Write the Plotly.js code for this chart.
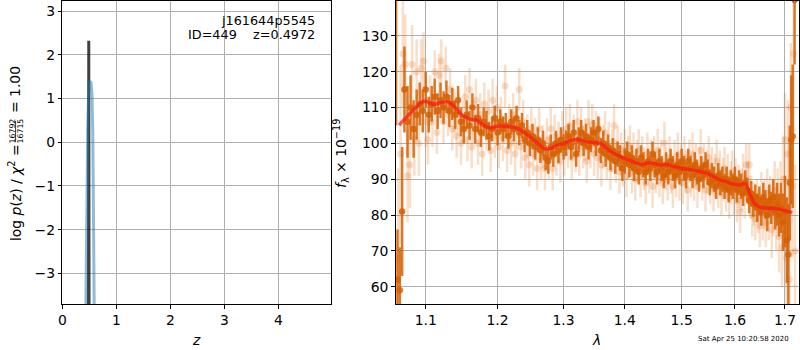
<!DOCTYPE html>
<html>
<head>
<meta charset="utf-8">
<script src="https://cdn.plot.ly/plotly-3.0.1.min.js"></script>
<style>html,body{margin:0;padding:0;background:#fff}#chart{width:800px;height:350px}</style>
</head>
<body>
<div id="chart"></div>
<script>
// ---- Left panel: redshift PDF ----
const zBlack = [0.482, 0.486, 0.490, 0.494, 0.498];
const logpBlack = [-6.0, -1.5, 2.32, -1.5, -6.0];
const zBlue = [0.435, 0.45, 0.47, 0.49, 0.51, 0.53, 0.55, 0.565, 0.575, 0.585, 0.592];
const logpBlue = [-4.0, -1.8, 0.3, 1.2, 1.38, 1.37, 1.1, 0.2, -1.2, -3.0, -4.0];
const zTicks = [0, 1, 2, 3, 4];
const logpTicks = [-3, -2, -1, 0, 1, 2, 3];

// ---- Right panel: spectrum ----
const darkWave = [1.0612,1.063,1.066,1.069,1.072,1.076,1.080,1.084,1.088,1.092,1.096,1.100,1.104,1.108,1.112,1.116,1.120,1.124,1.128,1.132,1.136,1.140,1.144,1.148,1.152,1.156,1.160,1.164,1.168,1.172,1.176,1.180,1.184,1.188,1.192,1.196,1.200,1.204,1.208,1.212,1.216,1.220,1.224,1.228,1.232,1.236,1.240,1.244,1.248,1.252,1.256,1.260,1.264,1.268,1.272,1.276,1.280,1.284,1.288,1.292,1.296,1.300,1.304,1.308,1.312,1.316,1.320,1.324,1.328,1.332,1.336,1.340,1.344,1.348,1.352,1.356,1.360,1.364,1.368,1.372,1.376,1.380,1.384,1.388,1.392,1.396,1.400,1.404,1.408,1.412,1.416,1.420,1.424,1.428,1.432,1.436,1.440,1.444,1.448,1.452,1.456,1.460,1.464,1.468,1.472,1.476,1.480,1.484,1.488,1.492,1.496,1.500,1.504,1.508,1.512,1.516,1.520,1.524,1.528,1.532,1.536,1.540,1.544,1.548,1.552,1.556,1.560,1.564,1.568,1.572,1.576,1.580,1.584,1.588,1.592,1.596,1.600,1.604,1.608,1.612,1.616,1.620,1.624,1.628,1.632,1.636,1.640,1.644,1.648,1.652,1.656,1.660,1.664,1.668,1.672,1.676,1.680,1.684,1.688,1.692,1.696,1.700,1.704,1.707,1.710,1.713,1.716,1.720,1.724];
const darkFlux = [150,62,59,81,115,106,110,104,108,111,109,115,108,111,113,109,112,110,113,109,111,108,112,106,104,108,105,110,104,107,103,106,105,102,104,107,103,106,104,105,102,106,104,107,103,105,101,103,100,102,99,101,98,100,96,95,99,97,100,98,101,99,100,102,99,103,97,101,103,100,102,99,101,103,100,104,98,100,97,99,96,98,95,97,96,93,95,97,94,96,93,95,92,96,94,92,95,93,97,94,92,95,93,91,94,92,95,93,91,94,92,95,93,91,95,93,91,94,92,90,93,91,94,92,89,91,90,88,91,89,90,88,90,87,89,88,90,87,89,88,86,89,87,84,86,83,85,82,84,81,85,83,80,84,82,85,81,83,80,82,78,81,73,69,89,101,102,140,145];
const darkErr = [45,14,12,18,12,10,9,8,7,6,6,5,5,5,5,5,5,4.5,4.5,4.5,4.5,4,4,4,4,4,4,4,4,4,4,4,4,4,3.5,3.5,3.5,3.5,3.5,3.5,3.5,3.5,3.5,3.5,3.5,3.5,3.5,3.5,3.5,3.5,3.5,3.5,3.5,3.5,3.5,3.5,3.5,3.5,3.5,3.5,3.5,3.5,3.5,3.5,3.5,3.5,3.5,3.5,3.5,3.5,3.5,3.5,3.5,3.5,3.5,3.5,3.5,3.5,3.5,3.5,3.5,3.5,3.5,3.5,3.5,3.5,3.5,3.5,3.5,3.5,3.5,3.5,3.5,3.5,3.5,3.5,3.5,3.5,3.5,3.5,3.5,3.5,3.5,3.5,3.5,3.5,3.5,3.5,3.5,3.5,3.5,3.5,3.5,3.5,3.5,3.5,3.5,3.5,3.5,3.5,3.5,3.5,3.5,3.5,3.5,3.5,3.5,3.5,3.5,3.5,3.5,3.5,3.5,3.5,3.5,3.5,3.5,3.5,3.5,3.5,3.5,3.5,3.5,3.5,3.5,3.5,3.5,4,4,4,4,4,4.5,4.5,4.5,5,5,6,6,7,8,10,12,14,16,18,20,18];

const lightWave = [1.064,1.067,1.070,1.073,1.076,1.079,1.082,1.085,1.088,1.091,1.094,1.097,1.100,1.103,1.106,1.109,1.112,1.115,1.118,1.121,1.124,1.127,1.130,1.133,1.136,1.139,1.142,1.145,1.148,1.151,1.154,1.157,1.160,1.163,1.166,1.169,1.172,1.175,1.178,1.181,1.184,1.187,1.190,1.193,1.196,1.199,1.202,1.205,1.208,1.211,1.214,1.217,1.220,1.223,1.226,1.229,1.232,1.235,1.238,1.241,1.244,1.247,1.250,1.253,1.256,1.259,1.262,1.265,1.268,1.271,1.274,1.277,1.280,1.283,1.286,1.289,1.292,1.295,1.298,1.301,1.304,1.307,1.310,1.313,1.316,1.319,1.322,1.325,1.328,1.331,1.334,1.337,1.340,1.343,1.346,1.349,1.352,1.355,1.358,1.361,1.364,1.367,1.370,1.373,1.376,1.379,1.382,1.385,1.388,1.391,1.394,1.397,1.400,1.403,1.406,1.409,1.412,1.415,1.418,1.421,1.424,1.427,1.430,1.433,1.436,1.439,1.442,1.445,1.448,1.451,1.454,1.457,1.460,1.463,1.466,1.469,1.472,1.475,1.478,1.481,1.484,1.487,1.490,1.493,1.496,1.499,1.502,1.505,1.508,1.511,1.514,1.517,1.520,1.523,1.526,1.529,1.532,1.535,1.538,1.541,1.544,1.547,1.550,1.553,1.556,1.559,1.562,1.565,1.568,1.571,1.574,1.577,1.580,1.583,1.586,1.589,1.592,1.595,1.598,1.601,1.604,1.607,1.610,1.613,1.616,1.619,1.622,1.625,1.628,1.631,1.634,1.637,1.640,1.643,1.646,1.649,1.652,1.655,1.658,1.661,1.664,1.667,1.670,1.673,1.676,1.679,1.682,1.685,1.688,1.691,1.694,1.697,1.700,1.703,1.706,1.709,1.712,1.715,1.718,1.721];
const lightFlux = [68,97,125,122,91,94,122,101,120,100,121,123,106,101,112,106,120,103,119,123,106,121,108,115,104,109,102,108,100,106,113,101,115,99,106,112,100,108,97,111,104,109,98,112,102,110,99,107,101,116,98,105,100,108,97,104,115,99,106,96,102,94,104,97,101,93,104,96,99,93,101,96,104,93,102,97,100,95,103,97,104,99,105,96,102,98,106,97,104,99,101,95,106,99,105,97,103,96,101,94,99,103,96,100,93,98,105,95,99,92,97,94,98,91,96,99,92,97,90,95,98,91,96,93,89,97,92,95,88,96,92,98,91,95,89,100,93,90,96,92,88,95,91,97,90,94,89,96,92,87,95,91,97,90,94,88,93,98,90,94,87,92,96,89,93,87,91,95,88,92,86,90,93,87,91,85,89,92,86,90,84,88,81,87,91,85,94,89,94,85,80,83,79,84,81,77,85,80,83,78,86,80,84,76,82,87,79,84,74,85,71,90,101,68,97,62,110,88,125,70];
const lightErr = [25,25,15,14,13,12,11,10,9,9,8,8,7,7,7,7,6,6,6,6,6,6,6,6,6,6,6,6,6,6,6,6,6,6,6,6,6,6,6,6,6,6,6,6,6,6,6,6,6,6,6,6,6,6,6,6,6,6,6,6,6,6,6,6,6,6,6,6,6,6,6,6,6,6,6,6,6,6,6,6,6,6,6,6,6,6,6,6,6,6,6,6,6,6,6,6,6,6,6,6,6,6,6,6,6,6,6,6,6,6,6,6,6,6,6,6,6,6,6,6,6,6,6,6,6,6,6,6,6,6,6,6,6,6,6,6,6,6,6,6,6,6,6,6,6,6,6,6,6,6,6,6,6,6,6,6,6,6,6,6,6,6,6,6,6,6,6,6,6,6,6,6,6,6,6,6,6,6,6,6,6,6,6,6,6,6,6,6,6,6,6,6,6,6,6,6,7,7,7,7,7,7,7,8,8,8,9,9,10,10,11,12,13,14,15,16,18,20,22,24,26,28];

const modelWave = [1.065,1.08,1.095,1.10,1.11,1.12,1.13,1.14,1.15,1.16,1.17,1.18,1.19,1.20,1.22,1.23,1.24,1.25,1.26,1.27,1.28,1.29,1.30,1.31,1.32,1.33,1.34,1.35,1.36,1.37,1.38,1.39,1.40,1.41,1.42,1.43,1.44,1.45,1.46,1.47,1.48,1.49,1.50,1.51,1.52,1.53,1.54,1.55,1.56,1.57,1.58,1.59,1.60,1.61,1.62,1.63,1.64,1.65,1.66,1.67,1.68,1.69,1.70,1.71,1.715];
const modelFlux = [105.1,108.5,111.5,111.7,110.9,111.3,111.6,110.0,107.8,106.8,106.5,105.0,104.3,104.8,104.6,104.2,103.0,101.5,100.0,98.5,98.6,99.5,99.9,100.7,101.1,100.8,100.4,100.2,99.9,98.5,97.3,96.5,95.8,95.2,94.4,94.1,94.5,94.4,94.0,94.1,93.8,93.4,93.0,92.8,92.6,92.3,91.9,91.5,90.6,89.9,89.5,88.9,88.6,88.4,88.8,85.5,83.0,82.2,82.0,81.9,81.8,81.6,81.2,80.9,80.7];
const lamTicks = [1.1, 1.2, 1.3, 1.4, 1.5, 1.6, 1.7];
const fluxTicks = [60, 70, 80, 90, 100, 110, 120, 130];

// ---- helpers (pixel -> paper) ----
const W = 800, H = 350;
const px = x => x / W;
const py = y => 1 - y / H;
const FONT = 'DejaVu Sans, Liberation Sans, sans-serif';
const TF = 13.9;

const orangeDark = 'rgba(214,96,4,0.85)';
const orangeLight = 'rgba(228,115,35,0.24)';

const traces = [
  {x: zBlack, y: logpBlack, xaxis: 'x', yaxis: 'y', mode: 'lines',
   line: {color: 'rgba(0,0,0,0.75)', width: 3}, hoverinfo: 'skip'},
  {x: zBlue, y: logpBlue, xaxis: 'x', yaxis: 'y', mode: 'lines',
   line: {color: 'rgba(31,119,180,0.5)', width: 3}, hoverinfo: 'skip'},
  {x: lightWave, y: lightFlux, xaxis: 'x2', yaxis: 'y2', mode: 'markers',
   marker: {color: orangeLight, size: 7},
   error_y: {type: 'data', array: lightErr, visible: true, color: orangeLight, thickness: 2.5, width: 0},
   hoverinfo: 'skip'},
  {x: darkWave, y: darkFlux, xaxis: 'x2', yaxis: 'y2', mode: 'markers',
   marker: {color: orangeDark, size: 6.5},
   error_y: {type: 'data', array: darkErr, visible: true, color: orangeDark, thickness: 2.5, width: 0},
   hoverinfo: 'skip'},
  {x: modelWave, y: modelFlux, xaxis: 'x2', yaxis: 'y2', mode: 'lines',
   line: {color: 'rgba(255,20,20,0.7)', width: 3.5, shape: 'spline'}, hoverinfo: 'skip'}
];

const axisCommon = {
  showline: true, mirror: true, linecolor: 'black', linewidth: 1,
  showgrid: true, gridcolor: '#b0b0b0', gridwidth: 1,
  ticks: 'outside', ticklen: 3.5, tickcolor: 'black', tickwidth: 1,
  tickfont: {family: FONT, size: TF, color: 'black'},
  zeroline: false, automargin: false, fixedrange: true
};

const layout = {
  width: W, height: H,
  margin: {l: 0, r: 0, t: 0, b: 0},
  paper_bgcolor: 'white', plot_bgcolor: 'white',
  showlegend: false,
  xaxis: Object.assign({}, axisCommon, {domain: [px(62.3), px(331)], range: [0, 4.976],
    tickmode: 'array', tickvals: zTicks, ticktext: zTicks.map(String), anchor: 'y'}),
  yaxis: Object.assign({}, axisCommon, {domain: [py(304), py(1)], range: [-3.70, 3.23],
    tickmode: 'array', tickvals: logpTicks, ticktext: logpTicks.map(v => v < 0 ? '\u2212' + Math.abs(v) : String(v)), anchor: 'x'}),
  xaxis2: Object.assign({}, axisCommon, {domain: [px(395.7), px(799.3)], type: 'log',
    range: [Math.log10(1.0607), Math.log10(1.7298)],
    tickmode: 'array', tickvals: lamTicks, ticktext: lamTicks.map(v => v.toFixed(1)), anchor: 'y2'}),
  yaxis2: Object.assign({}, axisCommon, {domain: [py(304), py(1)], range: [55.2, 139.7],
    tickmode: 'array', tickvals: fluxTicks, ticktext: fluxTicks.map(String), anchor: 'x2'}),
  annotations: [
    {xref: 'paper', yref: 'paper', x: px(317), y: py(20), xanchor: 'right', yanchor: 'middle',
     text: 'j161644p5545', showarrow: false, font: {family: FONT, size: 12.8, color: 'black'}},
    {xref: 'paper', yref: 'paper', x: px(317), y: py(35), xanchor: 'right', yanchor: 'middle',
     text: 'ID=449\u00a0\u00a0\u00a0\u00a0z=0.4972', showarrow: false, font: {family: FONT, size: 12.8, color: 'black'}},
    // left y title pieces
    {xref: 'paper', yref: 'paper', x: px(15), y: py(193), xanchor: 'center', yanchor: 'middle', textangle: -90,
     text: 'log <i>p</i>(<i>z</i>) / <i>\u03c7</i><sup>2</sup> =', showarrow: false, font: {family: FONT, size: TF, color: 'black'}},
    {xref: 'paper', yref: 'paper', x: px(11.5), y: py(131), xanchor: 'center', yanchor: 'middle', textangle: -90,
     text: '16792', showarrow: false, font: {family: FONT, size: 7.8, color: 'black'}},
    {xref: 'paper', yref: 'paper', x: px(19.5), y: py(131), xanchor: 'center', yanchor: 'middle', textangle: -90,
     text: '16715', showarrow: false, font: {family: FONT, size: 7.8, color: 'black'}},
    {xref: 'paper', yref: 'paper', x: px(15), y: py(90), xanchor: 'center', yanchor: 'middle', textangle: -90,
     text: '= 1.00', showarrow: false, font: {family: FONT, size: TF, color: 'black'}},
    // right y title
    {xref: 'paper', yref: 'paper', x: px(341), y: py(154), xanchor: 'center', yanchor: 'middle', textangle: -90,
     text: '<i>f</i><sub>\u03bb</sub> \u00d7 10<sup>\u221219</sup>', showarrow: false, font: {family: FONT, size: TF, color: 'black'}},
    // x titles
    {xref: 'paper', yref: 'paper', x: px(196), y: py(340), xanchor: 'center', yanchor: 'middle',
     text: '<i>z</i>', showarrow: false, font: {family: FONT, size: TF, color: 'black'}},
    {xref: 'paper', yref: 'paper', x: px(596), y: py(340), xanchor: 'center', yanchor: 'middle',
     text: '<i>\u03bb</i>', showarrow: false, font: {family: FONT, size: TF, color: 'black'}},
    {xref: 'paper', yref: 'paper', x: px(743), y: py(339), xanchor: 'center', yanchor: 'middle',
     text: 'Sat Apr 25 10:20:58 2020', showarrow: false, font: {family: FONT, size: 7, color: 'black'}}
  ],
  shapes: [
    {type: 'line', xref: 'paper', yref: 'paper', x0: px(15.6), x1: px(15.6), y0: py(121), y1: py(142),
     line: {color: 'black', width: 0.8}}
  ]
};

Plotly.newPlot('chart', traces, layout, {staticPlot: true, displayModeBar: false});
</script>
</body>
</html>
